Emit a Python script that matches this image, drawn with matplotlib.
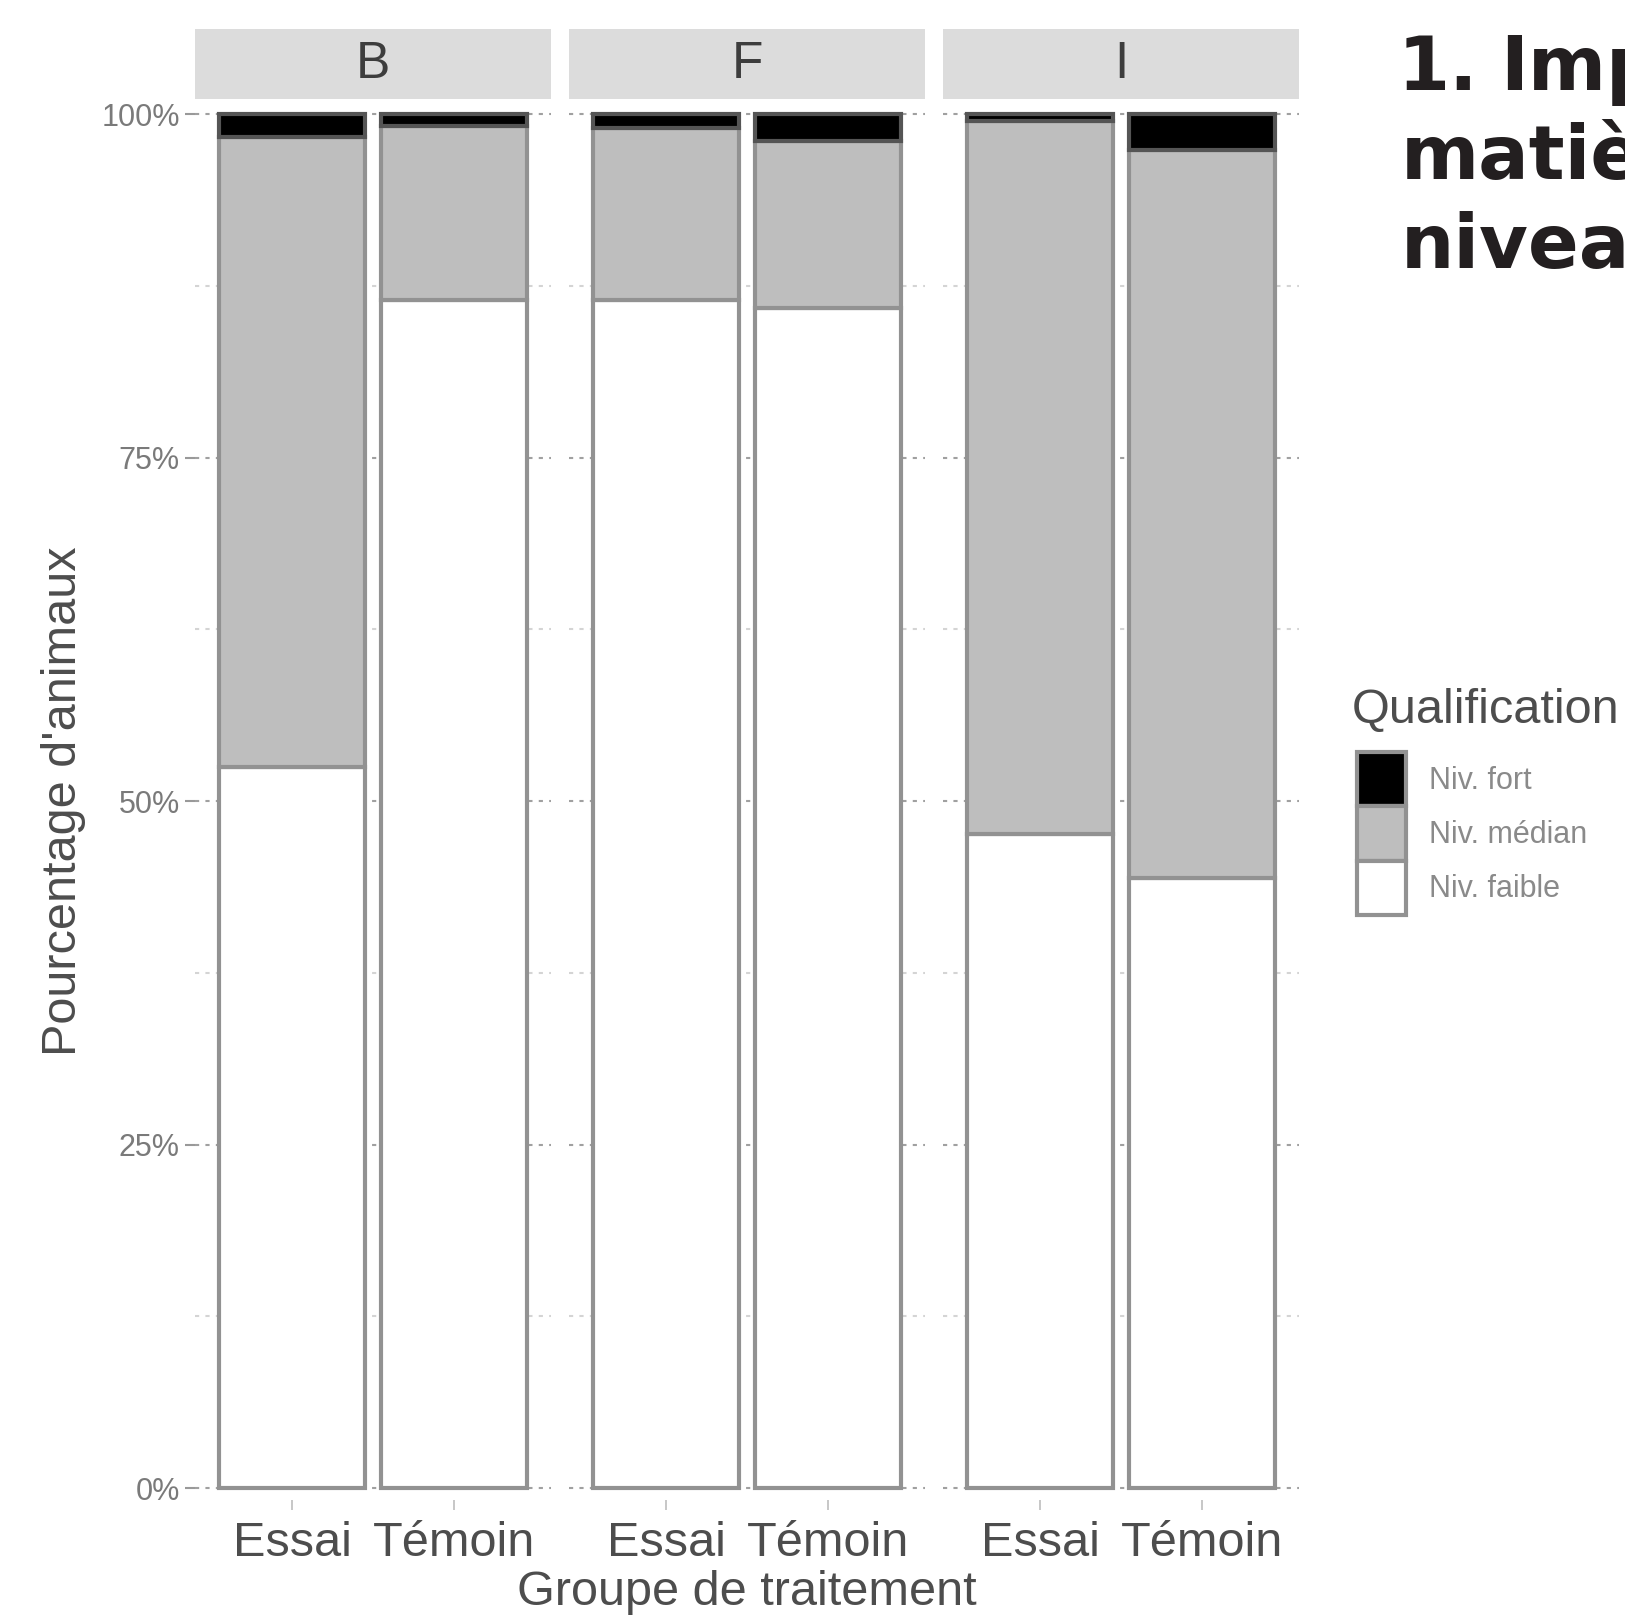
import numpy as np
import matplotlib.pyplot as plt
from matplotlib.patches import Patch
from matplotlib.ticker import PercentFormatter

plt.rcParams['font.family'] = ['Liberation Sans', 'DejaVu Sans']

# donnees (part des animaux, en %)
groupes = ['B', 'F', 'I']
traitements = ['Essai', 'Témoin']
niv_faible = [52.5, 86.5, 86.5, 85.9, 47.6, 44.4]
niv_median = [45.8, 12.6, 12.5, 12.1, 51.9, 53.0]
niv_fort = [1.7, 0.9, 1.0, 2.0, 0.5, 2.6]
niveaux = ['Niv. fort', 'Niv. médian', 'Niv. faible']
couleurs = {'Niv. faible': 'white', 'Niv. médian': '#bebebe', 'Niv. fort': 'black'}

W, H = 1625, 1619
fig = plt.figure(figsize=(W / 100, H / 100), dpi=100)


def box(x0, y0, x1, y1):
    # pixels (origine en haut a gauche) -> fraction de figure
    return [x0 / W, 1 - y1 / H, (x1 - x0) / W, (y1 - y0) / H]


bord = '#929292'
x = np.arange(1, len(traitements) + 1)

for i, g in enumerate(groupes):
    left = 195 + i * 374
    ax = fig.add_axes(box(left, 100, left + 356, 1500))
    faible = np.array(niv_faible[2 * i:2 * i + 2]) / 100
    median = np.array(niv_median[2 * i:2 * i + 2]) / 100
    fort = np.array(niv_fort[2 * i:2 * i + 2]) / 100

    ax.bar(x, faible, 0.9, color=couleurs['Niv. faible'], edgecolor=bord, linewidth=3)
    ax.bar(x, median, 0.9, bottom=faible, color=couleurs['Niv. médian'], edgecolor=bord, linewidth=3)
    ax.bar(x, fort, 0.9, bottom=faible + median, color=couleurs['Niv. fort'], edgecolor='#555555', linewidth=3)

    ax.set_xlim(0.4, 2.6)
    ax.set_ylim(-0.0087, 1.0102)
    ax.set_yticks([0, 0.25, 0.5, 0.75, 1])
    ax.set_yticks([0.125, 0.375, 0.625, 0.875], minor=True)
    ax.yaxis.set_major_formatter(PercentFormatter(1, decimals=0))
    ax.set_axisbelow(True)
    ax.grid(which='major', axis='y', color='#a0a0a0', linestyle=(0, (2, 3)), linewidth=1.5)
    ax.grid(which='minor', axis='y', color='#d4d4d4', linestyle=(0, (2, 3)), linewidth=1.5)
    for s in ax.spines.values():
        s.set_visible(False)

    ax.set_xticks(x)
    ax.set_xticklabels(traitements, fontsize=35, color='#4d4d4d')
    ax.tick_params(axis='x', length=7, width=1.2, color='#bdbdbd', pad=8)
    ax.tick_params(axis='y', which='minor', length=0)
    if i == 0:
        ax.tick_params(axis='y', which='major', length=7, width=1.5, color='#999999',
                       labelsize=22, labelcolor='#7a7a7a', pad=4)
    else:
        ax.tick_params(axis='y', which='major', length=0, labelleft=False)

    # bandeau de facette
    st = fig.add_axes(box(left, 29, left + 356, 99))
    st.set_facecolor('#dcdcdc')
    st.set_xticks([])
    st.set_yticks([])
    for s in st.spines.values():
        s.set_visible(False)
    st.text(0.5, 0.5, g, ha='center', va='center', fontsize=37, color='#3d3d3d',
            transform=st.transAxes)

fig.text(747 / W, 1 - 1605 / H, 'Groupe de traitement', ha='center', va='baseline',
         fontsize=35, color='#4d4d4d')
fig.text(64 / W, 1 - 801 / H, "Pourcentage d'animaux", ha='center', va='center',
         rotation=90, fontsize=35, color='#4d4d4d')

# legende
fig.text(1352 / W, 1 - 723 / H, 'Qualification', ha='left', va='baseline',
         fontsize=35, color='#4d4d4d')
poignees = [Patch(facecolor=couleurs[n], edgecolor=bord, linewidth=3) for n in niveaux]
leg = fig.legend(poignees, niveaux, loc='upper left', bbox_to_anchor=(1357 / W, 1 - 752 / H),
                 frameon=False, fontsize=22, handlelength=1.6, handleheight=2.36,
                 labelspacing=0, handletextpad=0.75, borderpad=0, borderaxespad=0)
for t in leg.get_texts():
    t.set_color('#8a8a8a')

# titre coupe par le bord de l'image
fig.text(1398 / W, 1 - 90 / H, '1.', ha='left', va='baseline', fontsize=54,
         fontweight='bold', color='#231f20', family='DejaVu Sans')
titre = ['Impact', 'matière', 'niveau']
x_titre = [1500, 1401, 1401]
for k, ligne in enumerate(titre):
    fig.text(x_titre[k] / W, 1 - (90 + k * 89) / H, ligne, ha='left', va='baseline',
             fontsize=54, fontweight='bold', color='#231f20', family='DejaVu Sans')

fig.savefig('out.png', dpi=100)
